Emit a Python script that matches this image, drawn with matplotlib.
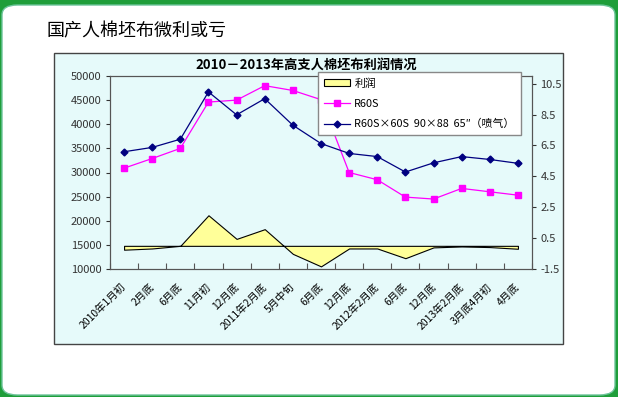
import matplotlib.pyplot as plt
import numpy as np
from matplotlib.patches import FancyBboxPatch, Rectangle, Patch
from matplotlib.lines import Line2D

plt.rcParams['font.family'] = ['Noto Sans CJK SC', 'DejaVu Sans']

# data
dates = ['2010年1月初', '2月底', '6月底', '11月初', '12月底', '2011年2月底', '5月中旬',
         '6月底', '12月底', '2012年2月底', '6月底', '12月底', '2013年2月底', '3月底4月初', '4月底']
r60s = [30900, 32900, 35000, 44600, 45000, 48000, 47000, 45100, 30000, 28500,
        24900, 24500, 26700, 26000, 25300]
r60s_60s = [34300, 35200, 36900, 46700, 41950, 45300, 39800, 36000, 33950, 33300,
            30100, 32000, 33300, 32700, 31900]
profit = [-0.25, -0.17, 0.0, 1.98, 0.45, 1.08, -0.52, -1.33, -0.17, -0.17,
          -0.8, -0.1, -0.04, -0.08, -0.19]

W, H = 618, 397
fig = plt.figure(figsize=(W / 100, H / 100), dpi=100)
fig.patch.set_facecolor('#1f9e3a')

# white rounded card
card = FancyBboxPatch((2 / W, 2 / H), (W - 5) / W, (H - 7) / H,
                      boxstyle='round,pad=0,rounding_size=0.025',
                      transform=fig.transFigure, facecolor='white',
                      edgecolor='#6cc49a', linewidth=1.0, zorder=0)
fig.patches.append(card)

# chart frame
frame = Rectangle((54 / W, 1 - 344 / H), (563 - 54) / W, (344 - 53) / H,
                  transform=fig.transFigure, facecolor='#e6fafa',
                  edgecolor='#444444', linewidth=1.0, zorder=0.5)
fig.patches.append(frame)

fig.text(47 / W, 1 - 31 / H, '国产人棉坯布微利或亏', fontsize=13, va='center', ha='left')
fig.text(306 / W, 1 - 65 / H, '2010－2013年高支人棉坯布利润情况', fontsize=9.5,
         fontweight='bold', va='center', ha='center')

ax = fig.add_axes([110 / W, 1 - 269 / H, (532 - 110) / W, (269 - 76) / H])
ax2 = ax.twinx()
ax.set_zorder(2)
ax2.set_zorder(1)
ax.patch.set_alpha(0)
ax2.patch.set_facecolor('white')

x = np.arange(len(dates))

# profit area on the secondary axis
ax2.fill_between(x, profit, 0, facecolor='#ffff99', edgecolor='black', linewidth=0.8)
ax2.set_ylim(-1.5, 11)
ax2.set_yticks(np.arange(-1.5, 11, 2))
ax2.set_yticklabels(['%g' % v for v in np.arange(-1.5, 11, 2)])
ax2.tick_params(axis='y', direction='out', length=3, labelsize=8, colors='#333333', pad=3)

ax.plot(x, r60s, color='#ff00ff', marker='s', markersize=4, linewidth=0.9)
ax.plot(x, r60s_60s, color='#000080', marker='D', markersize=3.5, linewidth=0.9)
ax.set_ylim(10000, 50000)
ax.set_yticks(np.arange(10000, 50001, 5000))
ax.set_xlim(-0.5, len(dates) - 0.5)
ax.set_xticks(np.arange(-0.5, len(dates), 1), minor=False)
ax.set_xticklabels([])
ax.set_xticks(x - 0.12, minor=True)
ax.set_xticklabels(dates, minor=True, rotation=45, ha='right', va='top',
                   rotation_mode='anchor', fontsize=7.5)
ax.tick_params(axis='x', which='major', direction='in', length=4, color='#555555')
ax.tick_params(axis='x', which='minor', length=0, pad=9)
ax.tick_params(axis='y', direction='out', length=3, labelsize=8, colors='#333333', pad=3)

for a in (ax, ax2):
    for s in a.spines.values():
        s.set_color('#555555')
        s.set_linewidth(0.8)

handles = [Patch(facecolor='#ffff99', edgecolor='black', linewidth=0.8),
           Line2D([], [], color='#ff00ff', marker='s', markersize=4, linewidth=0.9),
           Line2D([], [], color='#000080', marker='D', markersize=3.5, linewidth=0.9)]
labels = ['利润', 'R60S', 'R60S×60S  90×88  65″（喷气）']
leg = fig.legend(handles, labels, loc='upper left', bbox_to_anchor=(318 / W, 1 - 72 / H),
                 borderaxespad=0, fontsize=7.8, frameon=True, fancybox=False,
                 edgecolor='#888888', labelspacing=0.95, handlelength=2.4,
                 handletextpad=0.4, handleheight=0.7, borderpad=0.55, framealpha=1)
leg.set_zorder(5)

fig.savefig('out.png', dpi=100)
